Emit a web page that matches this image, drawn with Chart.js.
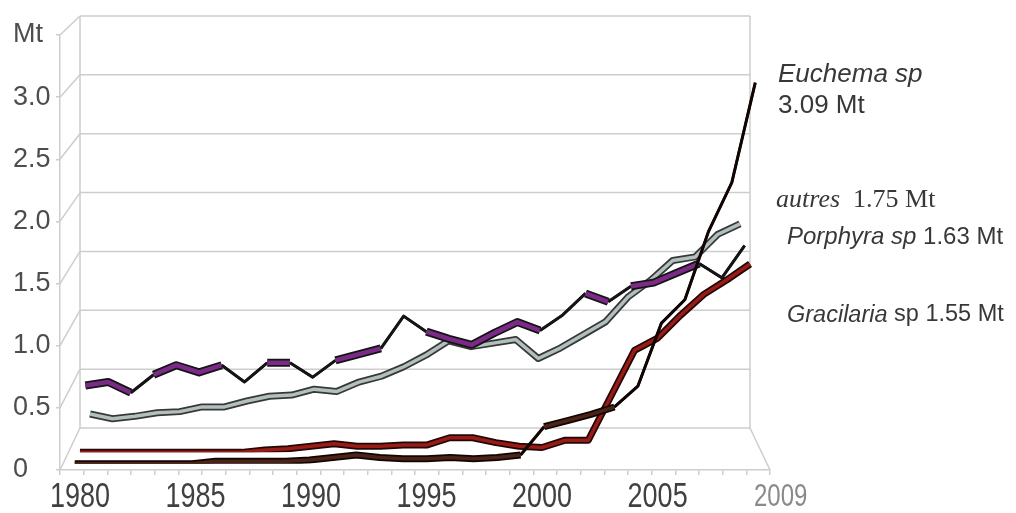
<!DOCTYPE html>
<html>
<head>
<meta charset="utf-8">
<script src="https://cdn.jsdelivr.net/npm/chart.js@4.4.1/dist/chart.umd.min.js"></script>
<style>
  html, body { margin: 0; padding: 0; background: #ffffff; }
  #wrap { width: 1016px; height: 513px; position: relative; }
</style>
</head>
<body>
<div id="wrap"><canvas id="chart"></canvas></div>
<script>
// Seaweed aquaculture production, million tonnes (Mt), 1980-2009
const years = [1980, 1981, 1982, 1983, 1984, 1985, 1986, 1987, 1988, 1989,
               1990, 1991, 1992, 1993, 1994, 1995, 1996, 1997, 1998, 1999,
               2000, 2001, 2002, 2003, 2004, 2005, 2006, 2007, 2008, 2009];

const euchema    = [0.00, 0.00, 0.00, 0.00, 0.00, 0.00, 0.02, 0.02, 0.02, 0.02,
                    0.03, 0.05, 0.07, 0.05, 0.04, 0.04, 0.05, 0.04, 0.05, 0.07,
                    0.30, 0.35, 0.40, 0.46, 0.63, 1.14, 1.33, 1.88, 2.28, 3.09];
const gracilaria = [0.00, 0.00, 0.00, 0.00, 0.00, 0.00, 0.00, 0.00, 0.02, 0.03,
                    0.05, 0.07, 0.05, 0.05, 0.06, 0.06, 0.12, 0.12, 0.08, 0.05,
                    0.04, 0.10, 0.10, 0.47, 0.84, 0.94, 1.13, 1.30, 1.42, 1.55];
const porphyra   = [0.46, 0.49, 0.40, 0.55, 0.63, 0.57, 0.63, 0.49, 0.65, 0.65,
                    0.53, 0.67, 0.72, 0.77, 1.04, 0.91, 0.85, 0.80, 0.90, 0.99,
                    0.92, 1.05, 1.23, 1.16, 1.29, 1.32, 1.40, 1.48, 1.36, 1.63];
const autres     = [0.14, 0.10, 0.12, 0.15, 0.16, 0.20, 0.20, 0.25, 0.29, 0.30,
                    0.35, 0.33, 0.41, 0.46, 0.54, 0.64, 0.76, 0.71, 0.74, 0.77,
                    0.61, 0.70, 0.81, 0.92, 1.13, 1.27, 1.44, 1.47, 1.66, 1.75];

const yTickValues = [0, 0.5, 1.0, 1.5, 2.0, 2.5, 3.0, 3.5];
const labelYears  = [1980, 1985, 1990, 1995, 2000, 2005];
const lastYear    = 2009;

// Ribbons, back to front. depth: 0 = front plane, 1 = back wall.
const series = [
  { key: 'A', data: autres,     depth: 0.94, face: '#b2bfbf', edge: '#383838', shade: false, width: 7 },
  { key: 'P', data: porphyra,   depth: 0.70, face: '#7b2a87', edge: '#151515', shade: true,  width: 8 },
  { key: 'G', data: gracilaria, depth: 0.42, face: '#981c15', edge: '#230706', shade: false, width: 7 },
  { key: 'E', data: euchema,    depth: 0.15, face: '#4c2317', edge: '#110504', shade: true,  width: 7 }
];

// Screen offsets of the back wall relative to the front plane (3-D box)
const perspective = { x: 20, top: 19, bottom: 42 };
const wallColor = '#cdcdcd';
const sans  = '"Liberation Sans", Arial, sans-serif';
const serif = '"Liberation Serif", "Times New Roman", serif';

// A steep segment shows the dark side of the ribbon
const steep = ctx => Math.abs(ctx.p1.parsed.y - ctx.p0.parsed.y) > 0.11;

const datasets = [];
series.forEach((s, i) => {
  const base = (series.length - 1 - i) * 2;
  const faceWidth = s.width - 3.5;
  datasets.push({
    data: s.data, xAxisID: 'x' + s.key, yAxisID: 'y' + s.key,
    borderColor: s.edge, borderWidth: s.width, pointRadius: 0,
    borderJoinStyle: 'round', tension: 0, order: base + 1,
    segment: { borderWidth: ctx => (s.shade && steep(ctx)) ? 3 : s.width }
  });
  datasets.push({
    data: s.data, xAxisID: 'x' + s.key, yAxisID: 'y' + s.key,
    borderColor: s.face, borderWidth: faceWidth, pointRadius: 0,
    borderJoinStyle: 'round', tension: 0, order: base,
    segment: {
      borderColor: ctx => (s.shade && steep(ctx)) ? s.edge : s.face,
      borderWidth: ctx => (s.shade && steep(ctx)) ? 2.5 : faceWidth
    }
  });
});

const scales = {
  x: {
    type: 'category', offset: true,
    grid: { offset: true, drawOnChartArea: false, drawTicks: true, tickLength: 5, color: wallColor, lineWidth: 1.5 },
    border: { display: true, color: wallColor, width: 1.5 },
    ticks: { display: false, autoSkip: false },
    afterFit: s => { s.height = 43; }
  },
  y: {
    type: 'linear', min: 0, max: 3.5,
    afterBuildTicks: s => { s.ticks = yTickValues.map(v => ({ value: v })); },
    ticks: {
      crossAlign: 'far', color: '#4d4d4d', padding: 4,
      font: { family: sans, size: 27 },
      callback: v => v === 3.5 ? 'Mt' : (v === 0 ? '0' : v.toFixed(1))
    },
    grid: { drawOnChartArea: false, tickLength: 4, color: wallColor, lineWidth: 1.5 },
    border: { display: true, color: wallColor, width: 1.5 },
    afterFit: s => { s.width = 47; }
  },
  xBack: { type: 'category', display: false, offset: true },
  yBack: { type: 'linear', display: false, min: 0, max: 3.5 }
};
series.forEach(s => {
  scales['x' + s.key] = { type: 'category', display: false, offset: true };
  scales['y' + s.key] = { type: 'linear', display: false, min: 0, max: 3.5 };
});

const depthOf = Object.fromEntries(series.map(s => [s.key, s.depth]));
depthOf.Back = 1;

// Places each hidden row scale on its own plane inside the 3-D box
const depthRows = {
  id: 'depthRows',
  afterLayout(chart) {
    const fx = chart.scales.x, fy = chart.scales.y;
    Object.entries(depthOf).forEach(([key, d]) => {
      const xs = chart.scales['x' + key], ys = chart.scales['y' + key];
      xs.left = fx.left + perspective.x * d;
      xs.right = fx.right - perspective.x * d;
      ys.top = fy.top - perspective.top * d;
      ys.bottom = fy.bottom - perspective.bottom * d;
      xs.configure();
      ys.configure();
    });
  }
};

function line(ctx, x1, y1, x2, y2) {
  ctx.beginPath(); ctx.moveTo(x1, y1); ctx.lineTo(x2, y2); ctx.stroke();
}

// Back wall, side wall and floor edges
const walls = {
  id: 'walls',
  beforeDatasetsDraw(chart) {
    const { ctx } = chart;
    const fx = chart.scales.x, fy = chart.scales.y;
    const bx = chart.scales.xBack, by = chart.scales.yBack;
    ctx.save();
    ctx.strokeStyle = wallColor;
    ctx.lineWidth = 1.5;
    fy.ticks.forEach(t => {
      const yb = by.getPixelForValue(t.value), yf = fy.getPixelForValue(t.value);
      line(ctx, bx.left, yb, bx.right, yb);
      line(ctx, fx.left, yf, bx.left, yb);
    });
    line(ctx, bx.left, by.top, bx.left, by.bottom);
    line(ctx, bx.right, by.top, bx.right, by.bottom);
    line(ctx, fx.right, fy.bottom, bx.right, by.bottom);
    ctx.restore();
  }
};

function tallText(ctx, str, x, y, size, color, align) {
  ctx.save();
  ctx.translate(x, y);
  ctx.scale(1, 1.32);
  ctx.font = size + 'px ' + sans;
  ctx.fillStyle = color;
  ctx.textAlign = align;
  ctx.textBaseline = 'middle';
  ctx.fillText(str, 0, 0);
  ctx.restore();
}

// Draws runs of [text, italic] pieces left to right
function richText(ctx, parts, x, y, size, family, color) {
  ctx.save();
  ctx.fillStyle = color;
  ctx.textAlign = 'left';
  ctx.textBaseline = 'middle';
  let cx = x;
  parts.forEach(([txt, italic]) => {
    ctx.font = (italic ? 'italic ' : '') + size + 'px ' + family;
    ctx.fillText(txt, cx, y);
    cx += ctx.measureText(txt).width;
  });
  ctx.restore();
}

const last = arr => arr[arr.length - 1].toFixed(2);

const annotations = {
  id: 'annotations',
  afterDraw(chart) {
    const { ctx } = chart;
    const fx = chart.scales.x, lx = chart.scales.xG;
    const ly = fx.top + 27;
    labelYears.forEach(yr => {
      tallText(ctx, String(yr), lx.getPixelForValue(years.indexOf(yr)), ly, 27, '#404040', 'center');
    });
    tallText(ctx, String(lastYear), fx.right - 16, ly, 24, '#8a8a8a', 'left');

    const tx = fx.right + 8;
    const ink = '#383838';
    richText(ctx, [['Euchema sp', true]], tx, 75, 26, sans, ink);
    richText(ctx, [[last(euchema) + ' Mt', false]], tx, 106, 26, sans, ink);
    richText(ctx, [['autres', true], ['  ' + last(autres) + ' Mt', false]], tx - 2, 200, 26, serif, ink);
    richText(ctx, [['Porphyra sp', true], [' ' + last(porphyra) + ' Mt', false]], tx + 9, 237, 24, sans, ink);
    richText(ctx, [['Gracilaria', true], [' sp ' + last(gracilaria) + ' Mt', false]], tx + 9, 315, 23.5, sans, ink);
  }
};

new Chart(document.getElementById('chart'), {
  type: 'line',
  data: { labels: years, datasets },
  options: {
    responsive: true,
    maintainAspectRatio: false,
    animation: false,
    layout: { padding: { left: 13, top: 35, right: 246, bottom: 0 } },
    plugins: { legend: { display: false }, tooltip: { enabled: false } },
    scales
  },
  plugins: [depthRows, walls, annotations]
});
</script>
</body>
</html>
